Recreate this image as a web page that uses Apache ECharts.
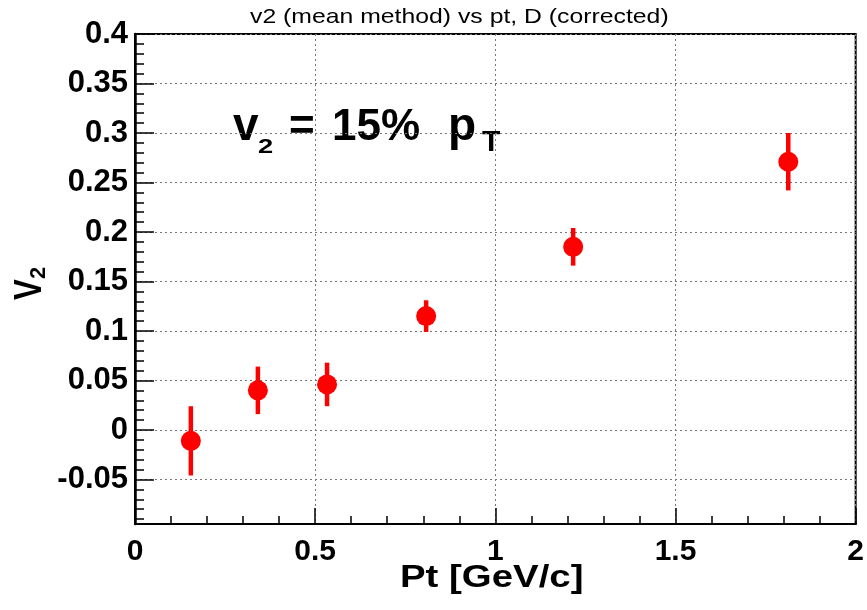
<!DOCTYPE html>
<html>
<head>
<meta charset="utf-8">
<script src="https://cdn.jsdelivr.net/npm/echarts@6/dist/echarts.min.js"></script>
<style>
  html, body { margin: 0; padding: 0; background: #fff; }
  #chart { width: 867px; height: 610px; }
</style>
</head>
<body>
<div id="chart"></div>
<script>
// Measured v2 (mean method) of D mesons vs transverse momentum
const pt     = [0.155, 0.341, 0.533, 0.808, 1.216, 1.813];
const v2     = [-0.011, 0.040, 0.046, 0.115, 0.185, 0.271];
const v2Err  = [0.035, 0.024, 0.022, 0.016, 0.019, 0.029];

// Axis tick values
const xTicks = [0, 0.5, 1, 1.5, 2];
const yTicks = [-0.05, 0, 0.05, 0.1, 0.15, 0.2, 0.25, 0.3, 0.35, 0.4];
const yMinorTicks = [];
for (let k = -9; k <= 40; k++) yMinorTicks.push(k / 100);

const FONT = '"Liberation Sans", Arial, Helvetica, sans-serif';
const RED = '#ff0000';
const gridDots = { color: '#777', width: 1, type: [2, 3] };

const chart = echarts.init(document.getElementById('chart'), null, { renderer: 'canvas' });

const option = {
  animation: false,
  backgroundColor: '#fff',
  grid: {
    left: 135, right: 8, top: 34, bottom: 86,
    show: true, borderColor: '#000', borderWidth: 2, backgroundColor: 'transparent'
  },
  xAxis: {
    type: 'value',
    min: xTicks[0], max: xTicks[xTicks.length - 1], interval: 0.5,
    axisLine: { show: true, onZero: false, lineStyle: { color: '#000', width: 2 } },
    axisTick: { show: true, inside: true, length: 16, lineStyle: { color: '#000', width: 1.5 } },
    minorTick: { show: true, splitNumber: 5, length: 8, lineStyle: { color: '#000', width: 1.5 } },
    splitLine: { show: true, lineStyle: gridDots },
    axisLabel: {
      color: '#000', fontFamily: FONT, fontWeight: 'bold', fontSize: 30, margin: 13,
      formatter: v => String(+v.toFixed(2))
    }
  },
  yAxis: [
    {
      type: 'value',
      position: 'left',
      min: -0.095, max: 0.4,
      axisLine: { show: true, onZero: false, lineStyle: { color: '#000', width: 2.5 } },
      axisTick: { show: true, inside: true, length: 19, customValues: yTicks, lineStyle: { color: '#000', width: 1.5 } },
      splitLine: { show: true, lineStyle: gridDots },
      axisLabel: {
        customValues: yTicks,
        color: '#000', fontFamily: FONT, fontWeight: 'bold', fontSize: 31, margin: 7,
        formatter: v => String(+v.toFixed(2))
      }
    },
    {
      // minor ticks every 0.01
      type: 'value',
      position: 'left',
      min: -0.095, max: 0.4,
      axisLine: { show: false },
      axisTick: { show: true, inside: true, length: 9, customValues: yMinorTicks, lineStyle: { color: '#000', width: 1.5 } },
      splitLine: { show: false },
      axisLabel: { show: false }
    }
  ],
  series: [
    {
      type: 'custom',
      name: 'errors',
      data: pt.map((x, i) => [x, v2[i], v2Err[i]]),
      renderItem: function (params, api) {
        const x = api.value(0), y = api.value(1), e = api.value(2);
        const top = api.coord([x, y + e]);
        const bot = api.coord([x, y - e]);
        return {
          type: 'line',
          shape: { x1: top[0], y1: top[1], x2: bot[0], y2: bot[1] },
          style: { stroke: RED, lineWidth: 4.5 }
        };
      },
      z: 3
    },
    {
      type: 'scatter',
      name: 'v2',
      data: pt.map((x, i) => [x, v2[i]]),
      symbol: 'circle',
      symbolSize: 20,
      itemStyle: { color: RED, opacity: 1 },
      z: 4
    }
  ],
  graphic: [
    // histogram title
    {
      type: 'text', x: 250, y: 28, scaleX: 1.18,
      style: {
        text: 'v2 (mean method) vs pt, D (corrected)',
        font: 'normal 21px ' + FONT, fill: '#000',
        textAlign: 'left', textVerticalAlign: 'bottom'
      }
    },
    // y-axis title V_2 (rotated)
    {
      type: 'text', x: 50, y: 300, rotation: Math.PI / 2, scaleX: 0.8,
      style: { text: 'V', font: 'bold 39px ' + FONT, fill: '#000', textAlign: 'left', textVerticalAlign: 'bottom' }
    },
    {
      type: 'text', x: 50, y: 279, rotation: Math.PI / 2,
      style: { text: '2', font: 'bold 22px ' + FONT, fill: '#000', textAlign: 'left', textVerticalAlign: 'bottom' }
    },
    // x-axis title
    {
      type: 'text', x: 400, y: 594, scaleX: 1.2,
      style: { text: 'Pt [GeV/c]', font: 'bold 32px ' + FONT, fill: '#000', textAlign: 'left', textVerticalAlign: 'bottom' }
    },
    // annotation: v_2 = 15% p_T
    {
      type: 'text', x: 233, y: 150,
      style: { text: 'v', font: 'bold 46px ' + FONT, fill: '#000', textAlign: 'left', textVerticalAlign: 'bottom' }
    },
    {
      type: 'text', x: 258, y: 158, scaleX: 1.3,
      style: { text: '2', font: 'bold 21px ' + FONT, fill: '#000', textAlign: 'left', textVerticalAlign: 'bottom' }
    },
    {
      type: 'text', x: 289, y: 150,
      style: { text: '=', font: 'bold 44px ' + FONT, fill: '#000', textAlign: 'left', textVerticalAlign: 'bottom' }
    },
    {
      type: 'text', x: 332, y: 150,
      style: { text: '15%', font: 'bold 44px ' + FONT, fill: '#000', textAlign: 'left', textVerticalAlign: 'bottom' }
    },
    {
      type: 'text', x: 448, y: 150,
      style: { text: 'p', font: 'bold 46px ' + FONT, fill: '#000', textAlign: 'left', textVerticalAlign: 'bottom' }
    },
    {
      type: 'text', x: 482, y: 158,
      style: { text: 'T', font: 'bold 30px ' + FONT, fill: '#000', textAlign: 'left', textVerticalAlign: 'bottom' }
    }
  ]
};

chart.setOption(option);
</script>
</body>
</html>
